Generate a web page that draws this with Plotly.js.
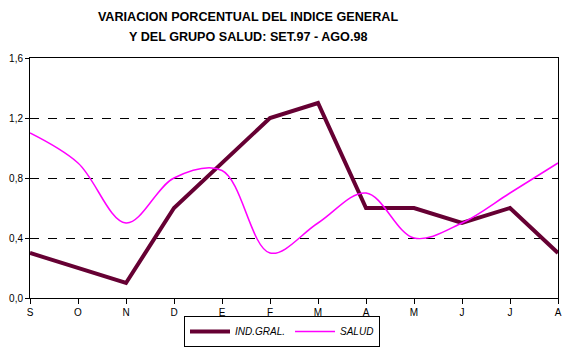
<!DOCTYPE html>
<html><head><meta charset="utf-8">
<script src="https://cdn.plot.ly/plotly-3.0.1.min.js"></script>
<style>html,body{margin:0;padding:0;background:#fff}#chart{width:571px;height:350px}</style>
</head><body><div id="chart"></div>
<script>
const months = ["S","O","N","D","E","F","M","A","M","J","J","A"];
const indGral = [0.3,0.2,0.1,0.6,0.9,1.2,1.3,0.6,0.6,0.5,0.6,0.3];
const salud = [1.1,0.9,0.5,0.8,0.85,0.3,0.5,0.7,0.4,0.5,0.7,0.9];
const yTicks = [0,0.4,0.8,1.2,1.6];
const xIdx = months.map((_,i)=>i);

const traces = [
  {x:xIdx, y:indGral, name:"IND.GRAL.", type:"scatter", mode:"lines",
   line:{color:"#660033", width:4}},
  {x:xIdx, y:salud, name:"SALUD", type:"scatter", mode:"lines",
   line:{color:"#FF00FF", width:1.5, shape:"spline", smoothing:1}}
];
const layout = {
  width:571, height:350,
  margin:{l:30, r:13, t:58, b:52, autoexpand:false},
  paper_bgcolor:"#fff", plot_bgcolor:"#fff",
  separators:",.",
  font:{family:"Liberation Sans, Arial, sans-serif", size:10, color:"#000"},
  title:{text:"VARIACION PORCENTUAL DEL INDICE GENERAL",
         font:{family:"Liberation Sans, Arial, sans-serif", size:12.6, color:"#000", weight:"bold"},
         x:248/571, xref:"container", xanchor:"center", y:1-16.5/350, yref:"container", yanchor:"middle"},
  annotations:[{text:"Y DEL GRUPO SALUD: SET.97 - AGO.98", showarrow:false,
         font:{family:"Liberation Sans, Arial, sans-serif", size:12.6, color:"#000", weight:"bold"},
         xref:"paper", yref:"paper", x:(248-30)/528, y:1+(58-37.5)/240, xanchor:"center", yanchor:"middle"}],
  xaxis:{tickvals:xIdx, ticktext:months, range:[0,11], showgrid:false, zeroline:false,
         showline:true, linecolor:"#000", linewidth:1, mirror:true,
         ticks:"outside", ticklen:5, tickcolor:"#000", fixedrange:true},
  yaxis:{tickvals:yTicks, range:[0,1.6], tickformat:".1f",
         showgrid:true, gridcolor:"#000", gridwidth:1, griddash:"dash", zeroline:false,
         showline:true, linecolor:"#000", linewidth:1, mirror:true,
         ticks:"outside", ticklen:4, tickcolor:"#000", fixedrange:true},
  showlegend:true,
  legend:{orientation:"h", x:(282-30)/528, xanchor:"center", y:-(347-298)/240, yanchor:"bottom",
          bordercolor:"#000", borderwidth:1, bgcolor:"#fff",
          font:{family:"Liberation Sans, Arial, sans-serif", size:10, style:"italic", color:"#000"},
          itemwidth:40, tracegroupgap:0}
};
Plotly.newPlot("chart", traces, layout, {displayModeBar:false, staticPlot:true});
</script></body></html>
